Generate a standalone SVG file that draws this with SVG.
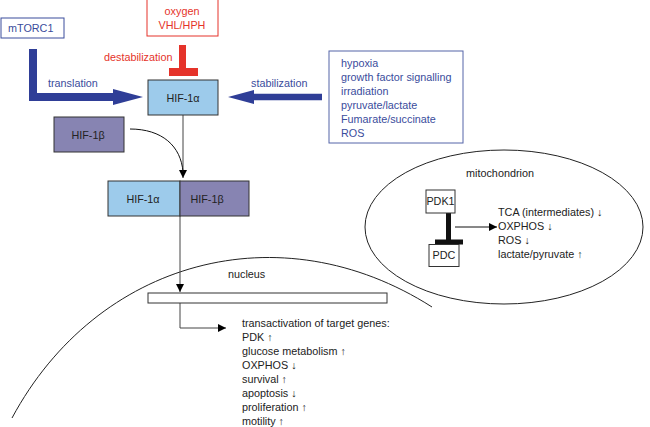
<svg xmlns="http://www.w3.org/2000/svg" width="650" height="427" viewBox="0 0 650 427">
<defs>
<marker id="ah" markerUnits="userSpaceOnUse" markerWidth="9" markerHeight="8" refX="8" refY="4" orient="auto">
<path d="M0,0 L8,4 L0,8 z" fill="#000"/>
</marker>
<style>
text{font-family:"Liberation Sans",Arial,sans-serif;font-size:10.8px;fill:#222}
.blue{fill:#3A4C9C}
.red{fill:#E5332A}
.mid{text-anchor:middle}
.box{stroke:#333;stroke-width:1}
.alpha{fill:#9DCBEB}
.beta{fill:#8784B2}
.wbox{fill:#fff;stroke:#333;stroke-width:1}
.thin{fill:none;stroke:#444;stroke-width:1}
.thick{fill:none;stroke:#2F3E97;stroke-width:8}
</style>
</defs>
<rect width="650" height="427" fill="#fff"/>

<!-- compartments -->
<g id="nucleus">
<path d="M12,418 C97,260 280,210 432,307" fill="none" stroke="#222" stroke-width="1"/>
<text x="228" y="278">nucleus</text>
</g>
<g id="mitochondrion">
<ellipse cx="504" cy="227" rx="139" ry="77" fill="none" stroke="#222" stroke-width="1"/>
<text x="500" y="177" class="mid">mitochondrion</text>
</g>

<g id="connectors">
<!-- translation -->
<path class="thick" d="M33,49 V97 H114"/>
<polygon points="113,89 143,97 113,105" fill="#2F3E97"/>
<!-- stabilization -->
<path d="M322,97 H252" fill="none" stroke="#2F3E97" stroke-width="6.5"/>
<polygon points="254,90 228,97 254,104" fill="#2F3E97"/>
<!-- destabilization inhibition -->
<rect x="179" y="45" width="7" height="23" fill="#E5332A"/>
<rect x="169" y="68" width="29" height="8" fill="#E5332A"/>
<!-- HIF-1a down -->
<path class="thin" d="M183,115 V178" marker-end="url(#ah)"/>
<path d="M130,129 C162,129 181,146 183,172" fill="none" stroke="#111" stroke-width="1"/>
<!-- complex to DNA -->
<path class="thin" d="M180,216 V292" marker-end="url(#ah)"/>
<!-- DNA to transactivation -->
<path class="thin" d="M180,303 V328 H226" marker-end="url(#ah)"/>
<!-- PDK1 -| PDC -->
<rect x="446" y="213" width="5" height="27" fill="#111"/>
<rect x="435" y="239.5" width="28" height="5" fill="#111"/>
<path d="M455,227 H497" fill="none" stroke="#111" stroke-width="1" marker-end="url(#ah)"/>
</g>

<g id="mTORC1">
<rect x="1" y="18" width="63" height="20" fill="#fff" stroke="#3A4C9C" stroke-width="1"/>
<text x="8" y="32" class="blue">mTORC1</text>
</g>
<g id="oxygen">
<rect x="147" y="-1" width="71" height="37" fill="#fff" stroke="#E5332A" stroke-width="1"/>
<text x="182" y="15" class="red mid">oxygen</text>
<text x="182" y="29" class="red mid">VHL/HPH</text>
</g>
<g id="label-destabilization"><text x="104" y="61" class="red">destabilization</text></g>
<g id="label-translation"><text x="48" y="87" class="blue">translation</text></g>
<g id="label-stabilization"><text x="251" y="87" class="blue">stabilization</text></g>

<g id="stimuli">
<rect x="329" y="51" width="134" height="92" fill="#fff" stroke="#5564A8" stroke-width="1"/>
<text x="341" y="67" class="blue">hypoxia</text>
<text x="341" y="81" class="blue">growth factor signalling</text>
<text x="341" y="95" class="blue">irradiation</text>
<text x="341" y="109" class="blue">pyruvate/lactate</text>
<text x="341" y="123" class="blue">Fumarate/succinate</text>
<text x="341" y="137" class="blue">ROS</text>
</g>

<g id="HIF1a">
<rect x="148" y="80" width="70" height="35" class="box alpha"/>
<text x="183" y="102" class="mid">HIF-1α</text>
</g>
<g id="HIF1b">
<rect x="54" y="117" width="70" height="35" class="box beta"/>
<text x="88" y="139" class="mid">HIF-1β</text>
</g>
<g id="complex">
<rect x="108" y="181" width="72" height="35" class="box alpha"/>
<rect x="180" y="181" width="69" height="35" class="box beta"/>
<text x="143" y="203" class="mid">HIF-1α</text>
<text x="207" y="203" class="mid">HIF-1β</text>
</g>

<g id="DNA">
<rect x="148" y="293" width="239" height="10" class="wbox"/>
</g>

<g id="targets">
<text x="242" y="327">transactivation of target genes:</text>
<text x="242" y="341">PDK ↑</text>
<text x="242" y="355">glucose metabolism ↑</text>
<text x="242" y="369">OXPHOS ↓</text>
<text x="242" y="383">survival ↑</text>
<text x="242" y="397">apoptosis ↓</text>
<text x="242" y="411">proliferation ↑</text>
<text x="242" y="425">motility ↑</text>
</g>

<g id="PDK1">
<rect x="426" y="190" width="29" height="23" class="wbox"/>
<text x="440.5" y="205" class="mid">PDK1</text>
</g>
<g id="PDC">
<rect x="429" y="244.5" width="30" height="22" class="wbox"/>
<text x="444" y="259" class="mid">PDC</text>
</g>
<g id="mito-effects">
<text x="498" y="216">TCA (intermediates) ↓</text>
<text x="498" y="230">OXPHOS ↓</text>
<text x="498" y="244">ROS ↓</text>
<text x="498" y="258">lactate/pyruvate ↑</text>
</g>
</svg>
